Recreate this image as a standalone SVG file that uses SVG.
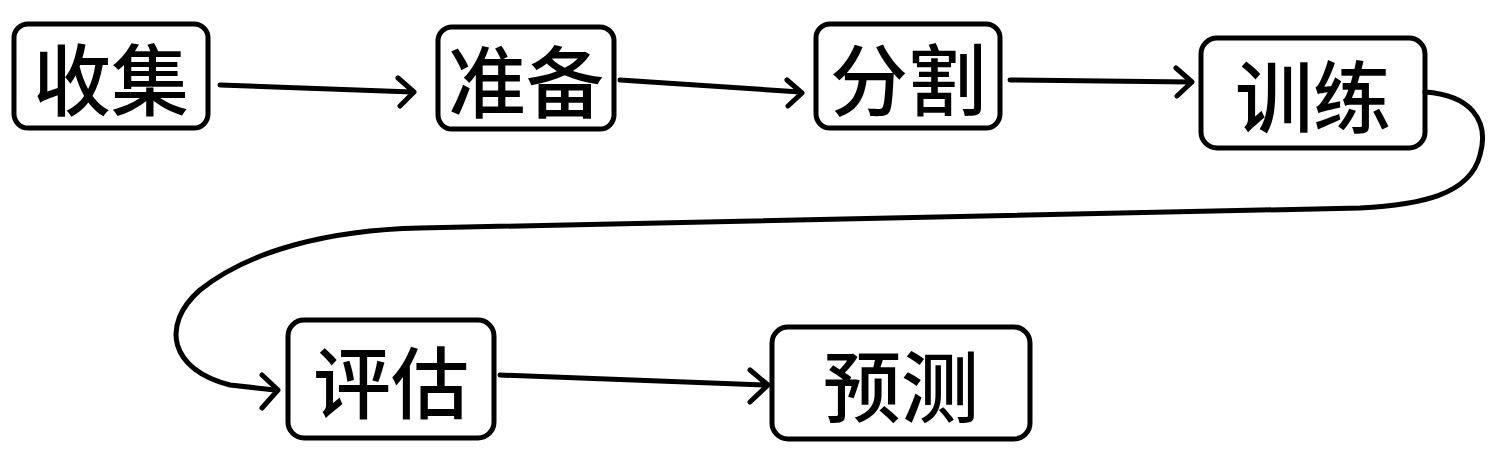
<svg xmlns="http://www.w3.org/2000/svg" width="1497" height="465" viewBox="0 0 1497 465">
<style>
.box{fill:none;stroke:#000;stroke-width:5;stroke-linecap:round;stroke-linejoin:round}
.lbl{font-family:"Noto Sans CJK SC","Noto Sans",sans-serif;font-size:78px;font-weight:500;fill:#000;text-anchor:middle;dominant-baseline:central}
.edge{fill:none;stroke:#000;stroke-width:5;stroke-linecap:round;stroke-linejoin:round}
</style>
<rect width="1497" height="465" fill="#fff"/>
<g id="n-collect"><rect class="box" x="14" y="24" width="194" height="104" rx="14"/><text class="lbl" x="111" y="76">收集</text></g>
<g id="n-prepare"><rect class="box" x="438" y="27" width="176" height="102" rx="14"/><text class="lbl" x="526" y="78">准备</text></g>
<g id="n-split"><rect class="box" x="816" y="24" width="184" height="104" rx="14"/><text class="lbl" x="908" y="76">分割</text></g>
<g id="n-train"><rect class="box" x="1201" y="38" width="224" height="110" rx="16"/><text class="lbl" x="1313" y="93">训练</text></g>
<g id="n-eval"><rect class="box" x="288" y="320" width="206" height="118" rx="16"/><text class="lbl" x="391" y="379">评估</text></g>
<g id="n-predict"><rect class="box" x="772" y="327" width="258" height="112" rx="16"/><text class="lbl" x="901" y="383">预测</text></g>
<g id="edges">
<path class="edge" d="M220,85 L412,92 M398,78 L414,92 L400,106"/>
<path class="edge" d="M620,80 L800,92 M787,80 L802,93 L788,106"/>
<path class="edge" d="M1010,80 L1190,82 M1176,68 L1192,82 L1177,96"/>
<path class="edge" d="M1425,92 C1470,95 1490,120 1480,155 C1470,195 1420,205 1360,208 L420,228 C330,230 250,250 200,290 C160,325 170,370 230,385 L275,390 M262,375 L278,390 L262,408"/>
<path class="edge" d="M500,375 L765,385 M750,370 L768,385 L750,402"/>
</g>
</svg>
